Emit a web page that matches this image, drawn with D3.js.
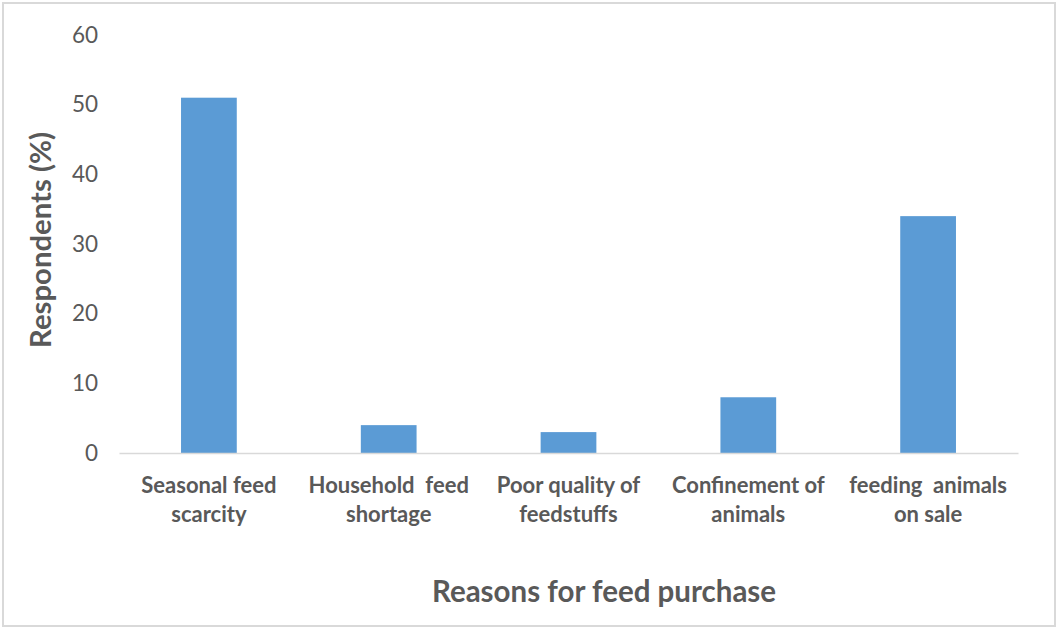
<!DOCTYPE html>
<html>
<head>
<meta charset="utf-8">
<script src="https://cdn.jsdelivr.net/npm/d3@7"></script>
<style>
  html, body { margin: 0; padding: 0; background: #fff; }
  svg { display: block; }
</style>
</head>
<body>
<svg id="chart" width="1058" height="629"></svg>
<script>
// Reasons for feed purchase, share of respondents (%)
const categories = [
  ["Seasonal feed", "scarcity"],
  ["Household  feed", "shortage"],
  ["Poor quality of", "feedstuffs"],
  ["Confinement of", "animals"],
  ["feeding  animals", "on sale"]
];
const values = [51, 4, 3, 8, 34];
const yTicks = [0, 10, 20, 30, 40, 50, 60];

const svg = d3.select("#chart");
const W = 1058, H = 629;
const margin = { left: 119, right: 40, top: 35, bottom: 176 };
const font = "Lato, 'Open Sans', sans-serif";
const textColor = "#595959";

// outer frame
svg.append("rect")
  .attr("x", 3).attr("y", 3)
  .attr("width", W - 6).attr("height", H - 6)
  .attr("fill", "#fff")
  .attr("stroke", "#d9d9d9")
  .attr("stroke-width", 2);

const x = d3.scaleBand()
  .domain(d3.range(categories.length))
  .range([margin.left, W - margin.right])
  .paddingInner(0.69)
  .paddingOuter(0.345);

const y = d3.scaleLinear()
  .domain([0, 60])
  .range([H - margin.bottom, margin.top]);

// bars
svg.append("g").selectAll("rect")
  .data(values)
  .join("rect")
  .attr("x", (d, i) => x(i))
  .attr("y", d => y(d))
  .attr("width", x.bandwidth())
  .attr("height", d => y(0) - y(d))
  .attr("fill", "#5b9bd5");

// y axis labels (no axis line)
const yAxis = svg.append("g")
  .attr("transform", `translate(${margin.left - 21},0)`)
  .call(d3.axisLeft(y).tickValues(yTicks).tickSize(0).tickPadding(0));
yAxis.select(".domain").remove();
yAxis.selectAll("text")
  .attr("font-family", font)
  .attr("font-size", 22.5)
  .attr("fill", textColor);

// x axis baseline
const xAxis = svg.append("g")
  .attr("transform", `translate(0,${y(0)})`)
  .call(d3.axisBottom(x).tickSize(0).tickFormat(""));
xAxis.select(".domain")
  .attr("stroke", "#d9d9d9")
  .attr("stroke-width", 1.5);

// category labels, two lines each
const labels = svg.append("g").selectAll("text")
  .data(categories)
  .join("text")
  .attr("text-anchor", "middle")
  .attr("font-family", font)
  .attr("font-size", 22)
  .attr("font-weight", 700)
  .attr("fill", textColor)
  .attr("transform", (d, i) => `translate(${x(i) + x.bandwidth() / 2},${y(0) + 40})`);
labels.selectAll("tspan")
  .data(d => d)
  .join("tspan")
  .attr("x", 0)
  .attr("dy", (d, j) => j === 0 ? 0 : 28.5)
  .style("white-space", "pre")
  .text(d => d);

// axis titles
svg.append("text")
  .attr("x", 604)
  .attr("y", 602)
  .attr("text-anchor", "middle")
  .attr("font-family", font)
  .attr("font-size", 29.5)
  .attr("font-weight", 700)
  .attr("fill", textColor)
  .text("Reasons for feed purchase");

svg.append("text")
  .attr("transform", "translate(51,240) rotate(-90)")
  .attr("text-anchor", "middle")
  .attr("font-family", font)
  .attr("font-size", 29.3)
  .attr("font-weight", 700)
  .attr("fill", textColor)
  .text("Respondents (%)");
</script>
</body>
</html>
